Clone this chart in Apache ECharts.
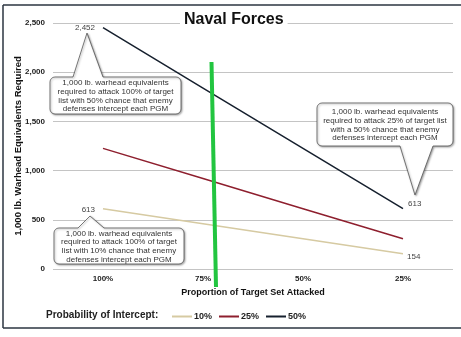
<!DOCTYPE html>
<html>
<head>
<meta charset="utf-8">
<script src="https://cdn.jsdelivr.net/npm/echarts@6/dist/echarts.min.js"></script>
<style>html,body{margin:0;padding:0;background:#fff;}#c{width:461px;height:337px;}</style>
</head>
<body>
<div id="c"></div>
<script>
const categories = ['100%', '75%', '50%', '25%'];
const series10 = [613, 460, 307, 154];
const series25 = [1226, 920, 613, 307];
const series50 = [2452, 1839, 1226, 613];
const seriesNames = ['10%', '25%', '50%'];
const yTicks = [0, 500, 1000, 1500, 2000, 2500];

const FONT = 'Liberation Sans, Arial, sans-serif';
const fmt = v => v.toLocaleString('en-US');

function calloutPoints(x0, y0, x1, y1, r, side, b0, b1, ax, ay) {
  const pts = [];
  const arc = (cx, cy, a0, a1) => {
    for (let i = 0; i <= 4; i++) {
      const a = a0 + (a1 - a0) * i / 4;
      pts.push([cx + r * Math.cos(a), cy + r * Math.sin(a)]);
    }
  };
  const P = Math.PI;
  arc(x0 + r, y0 + r, P, 1.5 * P);
  if (side === 'top') { pts.push([b0, y0], [ax, ay], [b1, y0]); }
  arc(x1 - r, y0 + r, 1.5 * P, 2 * P);
  arc(x1 - r, y1 - r, 0, 0.5 * P);
  if (side === 'bottom') { pts.push([b1, y1], [ax, ay], [b0, y1]); }
  arc(x0 + r, y1 - r, 0.5 * P, P);
  return pts;
}

function callout(x0, y0, x1, y1, side, b0, b1, ax, ay, lines) {
  return [
    {
      type: 'polygon', z: 50,
      shape: { points: calloutPoints(x0, y0, x1, y1, 5, side, b0, b1, ax, ay) },
      style: { fill: '#fff', stroke: '#555', lineWidth: 0.8,
               shadowBlur: 2, shadowColor: 'rgba(0,0,0,0.35)', shadowOffsetX: 1, shadowOffsetY: 1 }
    },
    {
      type: 'text', z: 51,
      x: (x0 + x1) / 2, y: (y0 + y1) / 2 + 0.5,
      style: { text: lines.join('\n'), align: 'center', verticalAlign: 'middle',
               font: '8px ' + FONT, fill: '#333', lineHeight: 8.6 }
    }
  ];
}

const chart = echarts.init(document.getElementById('c'));

function endLabel(pos, offset, dist) {
  return { show: true, position: pos, offset: offset || [0, 0], distance: dist || 5,
           formatter: p => fmt(p.value), color: '#444', fontSize: 8, fontFamily: FONT };
}
function mkData(arr, labels) {
  return arr.map((v, i) => labels[i] ? { value: v, label: labels[i] } : v);
}

chart.setOption({
  backgroundColor: '#fff',
  animation: false,
  title: {
    text: 'Naval Forces', left: 180, top: 12, padding: [0, 4],
    backgroundColor: '#fff',
    textStyle: { fontFamily: FONT, fontSize: 16, fontWeight: 'bold', color: '#111' }
  },
  grid: { left: 53, right: 8, top: 23, bottom: 68, containLabel: false, outerBoundsMode: 'none' },
  legend: {
    left: 167, top: 307, itemWidth: 20, itemHeight: 2, itemGap: 7, icon: 'rect',
    data: seriesNames,
    textStyle: { fontFamily: FONT, fontSize: 9, fontWeight: 'bold', color: '#222', padding: [0, 0, 0, -3] }
  },
  xAxis: {
    type: 'category', data: categories, boundaryGap: true,
    axisLine: { show: false }, axisTick: { show: false },
    axisLabel: { margin: 6, fontFamily: FONT, fontSize: 8, fontWeight: 'bold', color: '#222' },
    name: 'Proportion of Target Set Attacked', nameLocation: 'middle', nameGap: 19, nameMoveOverlap: false,
    nameTextStyle: { fontFamily: FONT, fontSize: 9, fontWeight: 'bold', color: '#111' }
  },
  yAxis: {
    type: 'value', min: yTicks[0], max: yTicks[yTicks.length - 1], interval: 500,
    axisLine: { show: false }, axisTick: { show: false },
    axisLabel: { margin: 8, formatter: v => fmt(v), fontFamily: FONT, fontSize: 8, fontWeight: 'bold', color: '#222' },
    splitLine: { lineStyle: { color: '#c4c4c4', width: 1 } },
    name: '1,000 lb. Warhead Equivalents Required', nameLocation: 'middle', nameGap: 30, nameMoveOverlap: false,
    nameTextStyle: { fontFamily: FONT, fontSize: 9.5, fontWeight: 'bold', color: '#111' }
  },
  series: [
    { name: seriesNames[0], type: 'line', symbol: 'circle', symbolSize: 0, showSymbol: true, z: 3,
      lineStyle: { width: 1.5, color: '#d6caa2' }, itemStyle: { color: '#d6caa2' },
      data: mkData(series10, [endLabel('left', [0, 1], 8), null, null, endLabel('right', [0, 3], 4)]) },
    { name: seriesNames[1], type: 'line', symbol: 'circle', symbolSize: 0, showSymbol: true, z: 3,
      lineStyle: { width: 1.5, color: '#8e1f2e' }, itemStyle: { color: '#8e1f2e' },
      data: series25 },
    { name: seriesNames[2], type: 'line', symbol: 'circle', symbolSize: 0, showSymbol: true, z: 3,
      lineStyle: { width: 1.5, color: '#16202e' }, itemStyle: { color: '#16202e' },
      data: mkData(series50, [endLabel('left', [0, 0], 8), null, null, endLabel('right', [0, -5], 5)]) }
  ],
  graphic: [
    { type: 'line', shape: { x1: 3, y1: 5, x2: 461, y2: 5 }, style: { stroke: '#2b3540', lineWidth: 1.5 } },
    { type: 'line', shape: { x1: 3, y1: 5, x2: 3, y2: 328 }, style: { stroke: '#2b3540', lineWidth: 1.5 } },
    { type: 'line', shape: { x1: 3, y1: 328, x2: 461, y2: 328 }, style: { stroke: '#2b3540', lineWidth: 1.5 } },
    { type: 'line', z: 60, shape: { x1: 211.5, y1: 62, x2: 216, y2: 287 }, style: { stroke: '#22c540', lineWidth: 4 } },
    { type: 'text', left: 46, top: 310, style: { text: 'Probability of Intercept:', font: 'bold 10px ' + FONT, fill: '#222' } },
    ...callout(50, 77, 181, 114, 'top', 73, 103, 87, 33,
      ['1,000 lb. warhead equivalents', 'required to attack 100% of target', 'list with 50% chance that enemy', 'defenses intercept each PGM']),
    ...callout(317, 103, 453, 146, 'bottom', 400, 433, 415, 195,
      ['1,000 lb. warhead equivalents', 'required to attack 25% of target list', 'with a 50% chance that enemy', 'defenses intercept each PGM']),
    ...callout(54, 228, 184, 264, 'top', 78, 104, 90, 216,
      ['1,000 lb. warhead equivalents', 'required to attack 100% of target', 'list with 10% chance that enemy', 'defenses intercept each PGM'])
  ]
});
</script>
</body>
</html>
